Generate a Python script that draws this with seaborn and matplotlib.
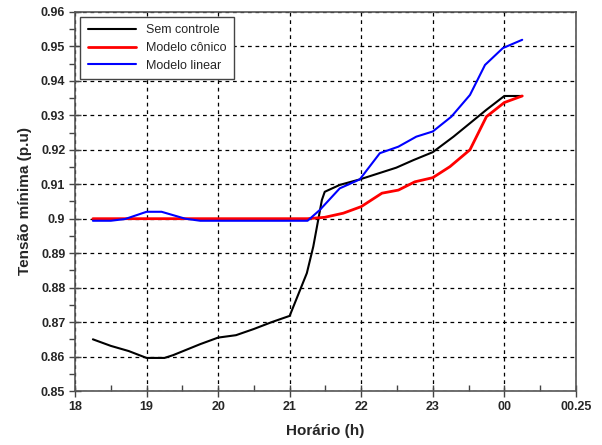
import matplotlib
matplotlib.use("Agg")
import matplotlib.pyplot as plt
from matplotlib.ticker import MultipleLocator
import seaborn as sns
import pandas as pd

# Sem controle
hora_sem = [18.25, 18.5, 18.75, 19.0, 19.25, 19.37, 19.75, 20.0, 20.25, 20.5, 20.75, 21.0,
            21.24, 21.33, 21.45, 21.49, 21.70, 21.98, 22.49, 22.73, 23.0, 23.29, 23.52,
            23.75, 24.0, 24.25]
tensao_sem = [0.865, 0.8631, 0.8616, 0.8596, 0.8596, 0.8604, 0.8636, 0.8655, 0.8662, 0.868,
              0.870, 0.8718, 0.8842, 0.8919, 0.9054, 0.9078, 0.9098, 0.9114, 0.9148, 0.917,
              0.9193, 0.9238, 0.9277, 0.9316, 0.9356, 0.9356]

# Modelo cônico
hora_conico = [18.25, 18.75, 19.25, 19.75, 20.25, 20.75, 21.25, 21.49, 21.75, 22.0, 22.29,
               22.52, 22.75, 23.0, 23.24, 23.52, 23.75, 24.0, 24.25]
tensao_conico = [0.900, 0.900, 0.900, 0.900, 0.900, 0.900, 0.900, 0.9004, 0.9016, 0.9035,
                 0.9074, 0.9083, 0.9107, 0.9119, 0.9151, 0.920, 0.9296, 0.9337, 0.9356]

# Modelo linear
hora_linear = [18.25, 18.5, 18.7, 19.0, 19.21, 19.54, 19.75, 20.25, 20.75, 21.25, 21.42,
               21.70, 21.98, 22.26, 22.52, 22.77, 23.0, 23.26, 23.52, 23.73, 23.98, 24.25]
tensao_linear = [0.8994, 0.8994, 0.8999, 0.902, 0.902, 0.900, 0.8994, 0.8994, 0.8994, 0.8994,
                 0.9025, 0.9088, 0.9114, 0.919, 0.9209, 0.9238, 0.9253, 0.9296, 0.9359,
                 0.9446, 0.9495, 0.9519]

xticks = [18, 19, 20, 21, 22, 23, 24, 25]
xlabels = ["18", "19", "20", "21", "22", "23", "00", "00.25"]
yticks = [0.85, 0.86, 0.87, 0.88, 0.89, 0.90, 0.91, 0.92, 0.93, 0.94, 0.95, 0.96]
ylabels = ["0.85", "0.86", "0.87", "0.88", "0.89", "0.9", "0.91", "0.92", "0.93",
           "0.94", "0.95", "0.96"]

sns.set_style("white")
plt.rcParams['font.family'] = ['Liberation Sans', 'DejaVu Sans']

fig = plt.figure(figsize=(6.02, 4.45), dpi=100)
ax = fig.add_axes([0.1246, 0.1213, 0.832, 0.852])

series = [
    (hora_sem, tensao_sem, "Sem controle", "black", 1.5),
    (hora_conico, tensao_conico, "Modelo cônico", "red", 2.0),
    (hora_linear, tensao_linear, "Modelo linear", "blue", 1.5),
]
for hx, ty, nome, cor, lw in series:
    df = pd.DataFrame({"h": hx, "v": ty})
    sns.lineplot(data=df, x="h", y="v", color=cor, linewidth=lw, label=nome, ax=ax,
                 sort=False)

ax.set_xlim(18, 25)
ax.set_ylim(0.85, 0.96)
ax.set_xticks(xticks)
ax.set_xticklabels(xlabels)
ax.set_yticks(yticks)
ax.set_yticklabels(ylabels)
ax.xaxis.set_minor_locator(MultipleLocator(0.5))
ax.yaxis.set_minor_locator(MultipleLocator(0.005))
ax.tick_params(axis="both", which="both", bottom=True, left=True)
ax.tick_params(axis="both", which="major", direction="inout", length=8, width=1,
               color="#444444", labelsize=9, pad=3)
ax.tick_params(axis="x", which="minor", direction="in", length=4, width=1, color="#444444")
ax.tick_params(axis="y", which="minor", direction="out", length=4, width=1, color="#444444")
for lab in ax.get_xticklabels() + ax.get_yticklabels():
    lab.set_fontweight("bold")

ax.grid(True, which="major", color="black", linestyle=(0, (3, 3)), linewidth=0.9)
for sp in ax.spines.values():
    sp.set_color("#555555")
    sp.set_linewidth(1.2)

ax.set_xlabel("Horário (h)", fontsize=11, fontweight="bold", labelpad=8)
ax.set_ylabel("Tensão mínima (p.u)", fontsize=11, fontweight="bold", labelpad=6)

leg = ax.legend(loc="upper left", fontsize=9, frameon=True, fancybox=False,
                edgecolor="#444444", framealpha=1, handlelength=3.9,
                borderaxespad=0.4, borderpad=0.6, handletextpad=0.8, labelspacing=0.45)
leg.get_frame().set_linewidth(1)

fig.savefig("out.png", dpi=100)
